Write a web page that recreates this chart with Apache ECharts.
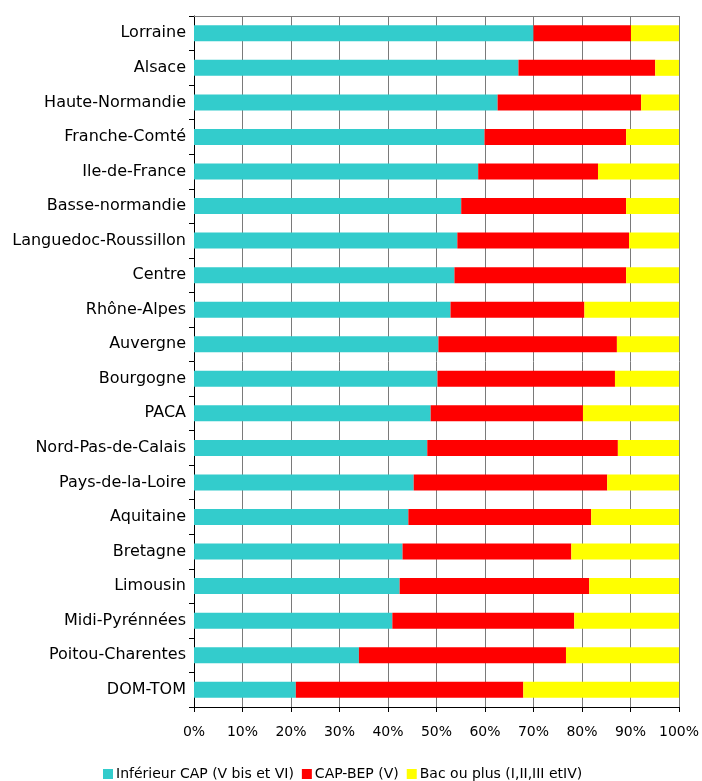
<!DOCTYPE html>
<html>
<head>
<meta charset="utf-8">
<script src="https://cdn.jsdelivr.net/npm/echarts@6/dist/echarts.min.js"></script>
<style>
html, body { margin: 0; padding: 0; background: #fff; }
#chart { width: 702px; height: 781px; }
</style>
</head>
<body>
<div id="chart"></div>
<script>
// régions, de haut en bas
var regions = ['Lorraine', 'Alsace', 'Haute-Normandie', 'Franche-Comté', 'Ile-de-France',
    'Basse-normandie', 'Languedoc-Roussillon', 'Centre', 'Rhône-Alpes', 'Auvergne',
    'Bourgogne', 'PACA', 'Nord-Pas-de-Calais', 'Pays-de-la-Loire', 'Aquitaine',
    'Bretagne', 'Limousin', 'Midi-Pyrénnées', 'Poitou-Charentes', 'DOM-TOM'];
// parts en %
var inferieurCAP = [70.0, 66.9, 62.6, 59.9, 58.6, 55.1, 54.3, 53.7, 52.9, 50.4,
    50.2, 48.8, 48.1, 45.3, 44.2, 43.0, 42.4, 40.9, 34.0, 21.0];
var capBep = [20.1, 28.2, 29.6, 29.2, 24.7, 34.0, 35.4, 35.4, 27.6, 36.8,
    36.6, 31.4, 39.3, 39.9, 37.7, 34.8, 39.1, 37.5, 42.7, 46.9];
var bacOuPlus = [9.9, 4.9, 7.8, 10.9, 16.7, 10.9, 10.3, 10.9, 19.5, 12.8,
    13.2, 19.8, 12.6, 14.8, 18.1, 22.2, 18.5, 21.6, 23.3, 32.1];
var seriesNames = ['Inférieur CAP (V bis et VI)', 'CAP-BEP (V)', 'Bac ou plus (I,II,III etIV)'];
var colors = ['#33CCCC', '#FF0000', '#FFFF00'];

var myChart = echarts.init(document.getElementById('chart'));
var font = '"DejaVu Sans", Verdana, sans-serif';

var option = {
    animation: false,
    textStyle: { fontFamily: font },
    color: colors,
    grid: { left: 194, right: 22, top: 16, bottom: 74 },
    legend: {
        bottom: -5,
        left: 98,
        itemWidth: 10,
        itemHeight: 10,
        itemGap: 8,
        icon: 'rect',
        textStyle: { fontFamily: font, fontSize: 14, color: '#000', padding: [0, 0, 0, -2] },
        data: seriesNames
    },
    xAxis: {
        type: 'value',
        min: 0,
        max: 100,
        interval: 10,
        axisLine: { show: true, lineStyle: { color: '#000', width: 1 } },
        axisTick: { show: true, length: 5, lineStyle: { color: '#000' } },
        axisLabel: { formatter: '{value}%', color: '#000', fontFamily: font, fontSize: 14, margin: 18 },
        splitLine: { show: true, lineStyle: { color: '#7a7a7a', width: 1 } }
    },
    yAxis: {
        type: 'category',
        inverse: true,
        data: regions,
        axisLine: { show: true, lineStyle: { color: '#000', width: 1 } },
        axisTick: { show: true, length: 5, lineStyle: { color: '#000' } },
        axisLabel: { color: '#000', fontFamily: font, fontSize: 16, margin: 8 },
        splitLine: { show: false }
    },
    series: [
        { name: seriesNames[0], type: 'bar', stack: 'total', barWidth: 16, data: inferieurCAP },
        { name: seriesNames[1], type: 'bar', stack: 'total', barWidth: 16, data: capBep },
        { name: seriesNames[2], type: 'bar', stack: 'total', barWidth: 16, data: bacOuPlus },
        // cadre haut du graphique
        {
            type: 'line', data: [], silent: true,
            markLine: {
                symbol: 'none', silent: true, label: { show: false },
                lineStyle: { color: '#7a7a7a', type: 'solid', width: 1 },
                data: [[{ coord: [0, regions[0]], y: 16 }, { coord: [100, regions[0]], y: 16 }]]
            }
        }
    ]
};

myChart.setOption(option);
</script>
</body>
</html>
